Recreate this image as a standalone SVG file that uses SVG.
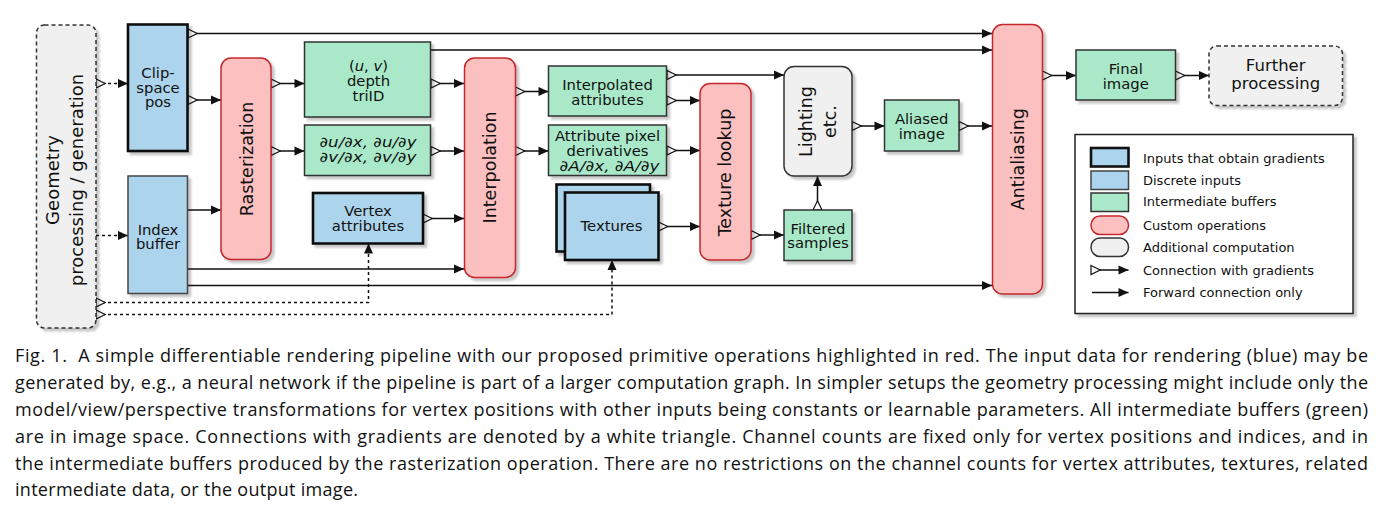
<svg xmlns="http://www.w3.org/2000/svg" width="1379" height="506" viewBox="0 0 1379 506">
<defs>
<filter id="sh" x="-10%" y="-10%" width="130%" height="130%">
<feDropShadow dx="3" dy="3" stdDeviation="1.2" flood-color="#000" flood-opacity="0.22"/>
</filter>
<marker id="grad" markerUnits="userSpaceOnUse" markerWidth="12" markerHeight="12" refX="0.8" refY="5" orient="auto" overflow="visible">
<path d="M0.8,0.5 L10,5 L0.8,9.5 z" fill="#fff" stroke="#111" stroke-width="1.2"/>
</marker>
<marker id="arr" markerUnits="userSpaceOnUse" markerWidth="12" markerHeight="12" refX="10" refY="5" orient="auto" overflow="visible">
<path d="M0,0.5 L10,5 L0,9.5 z" fill="#111"/>
</marker>
</defs>
<style>
.blue{fill:#acd4ec;stroke:#444;stroke-width:1.5}
.thick{stroke:#111;stroke-width:2.6}
.green{fill:#a9e9c9;stroke:#333;stroke-width:1.5}
.op{fill:#fdc0c0;stroke:#c4282c;stroke-width:1.5}
.gray{fill:#f0f0f0;stroke:#333;stroke-width:1.5}
.dash{fill:#f0f0f0;stroke:#333;stroke-width:1.5;stroke-dasharray:4 3}
.sh{filter:url(#sh)}
.t{font-family:"DejaVu Sans",Verdana,sans-serif;font-size:14.8px;fill:#111;text-anchor:middle}
.it{font-style:italic}
.d{font-size:14px}
.r{font-family:"DejaVu Sans",Verdana,sans-serif;font-size:17.5px;fill:#111;text-anchor:middle}
.lg{font-family:"DejaVu Sans",Verdana,sans-serif;font-size:13px;fill:#111}
.c{fill:none;stroke:#111;stroke-width:1.5}
.g{marker-start:url(#grad)}
.a{marker-end:url(#arr)}
.dot{stroke-dasharray:3 3}
.cap{font-family:"Open Sans",Lato,sans-serif;font-size:18px;fill:#111}
</style>

<g id="connectors">
<path class="c g a" d="M188,33.5 H992"/>
<path class="c g a dot" d="M96,83.5 H128"/>
<path class="c a dot" d="M96,235.5 H128"/>
<path class="c g a" d="M188,100 H221"/>
<path class="c a" d="M188,210 H221"/>
<path class="c a" d="M188,269 H464"/>
<path class="c a" d="M188,285.5 H992"/>
<path class="c g a dot" d="M96,302.5 H368.5 V243.5"/>
<path class="c g a dot" d="M96,314.5 H612 V260"/>
<path class="c g a" d="M271,83.5 H304.5"/>
<path class="c g a" d="M271,151 H304.5"/>
<path class="c a" d="M431,50 H992"/>
<path class="c g a" d="M431,83.5 H464"/>
<path class="c g a" d="M431,151 H464"/>
<path class="c g a" d="M423,218.5 H464"/>
<path class="c g a" d="M515.5,91.5 H548.5"/>
<path class="c g a" d="M515.5,151 H548.5"/>
<path class="c g a" d="M667,75 H784"/>
<path class="c g a" d="M667,100.5 H700"/>
<path class="c g a" d="M667,150.5 H700"/>
<path class="c g a" d="M658.5,226.5 H700"/>
<path class="c g a" d="M751,235 H784"/>
<path class="c g a" d="M817.5,210 V176"/>
<path class="c g a" d="M852,126 H884.5"/>
<path class="c g a" d="M959,126 H992"/>
<path class="c g a" d="M1042.5,75.5 H1076"/>
<path class="c g a" d="M1175.5,75.5 H1209"/>
</g>

<g id="geometry">
<rect class="dash sh" x="36.5" y="25" width="59.5" height="303" rx="8"/>
<g transform="translate(66,180) rotate(-90)">
<text class="r" style="font-size:18px" x="0" y="-7.5">Geometry</text>
<text class="r" style="font-size:18px" x="0" y="16.5">processing / generation</text>
</g>
</g>

<g id="clip-space-pos">
<rect class="blue thick sh" x="128" y="24.5" width="59.5" height="126.5"/>
<text class="t" x="158" y="78">Clip-</text>
<text class="t" x="158" y="92.5">space</text>
<text class="t" x="158" y="107">pos</text>
</g>

<g id="index-buffer">
<rect class="blue sh" x="128" y="176" width="59.5" height="117.5"/>
<text class="t" x="158" y="234.5">Index</text>
<text class="t" x="158" y="249">buffer</text>
</g>

<g id="rasterization">
<rect class="op sh" x="221" y="58" width="50" height="201.5" rx="10"/>
<text class="r" transform="translate(252.5,159) rotate(-90)">Rasterization</text>
</g>

<g id="uv-depth-triid">
<rect class="green sh" x="304.5" y="42" width="126" height="75"/>
<text class="t" x="368.5" y="70.5">(<tspan class="it">u</tspan>, <tspan class="it">v</tspan>)</text>
<text class="t" x="368.5" y="85.5">depth</text>
<text class="t" x="368.5" y="100.5">triID</text>
</g>

<g id="uv-derivatives">
<rect class="green sh" x="304.5" y="125" width="126" height="50.5"/>
<text class="t it d" x="368" y="147" textLength="97" lengthAdjust="spacingAndGlyphs">∂u/∂x, ∂u/∂y</text>
<text class="t it d" x="368" y="161.5" textLength="97" lengthAdjust="spacingAndGlyphs">∂v/∂x, ∂v/∂y</text>
</g>

<g id="vertex-attributes">
<rect class="blue thick sh" x="313" y="193" width="110" height="50.5"/>
<text class="t" x="368" y="216">Vertex</text>
<text class="t" x="368" y="231">attributes</text>
</g>

<g id="interpolation">
<rect class="op sh" x="464.5" y="58" width="51" height="219.5" rx="10"/>
<text class="r" transform="translate(496,167.5) rotate(-90)">Interpolation</text>
</g>

<g id="interpolated-attributes">
<rect class="green sh" x="548.5" y="66" width="118" height="50"/>
<text class="t" x="607.5" y="90">Interpolated</text>
<text class="t" x="607.5" y="105">attributes</text>
</g>

<g id="attribute-pixel-derivatives">
<rect class="green sh" x="548.5" y="125" width="118" height="50.5"/>
<text class="t" x="607.5" y="141">Attribute pixel</text>
<text class="t" x="607.5" y="155.5">derivatives</text>
<text class="t it" x="609.5" y="170.5" textLength="100" lengthAdjust="spacingAndGlyphs">∂A/∂x, ∂A/∂y</text>
</g>

<g id="textures">
<rect class="blue thick sh" x="556.5" y="184.5" width="93.5" height="67"/>
<rect class="blue thick sh" x="565" y="192.5" width="93.5" height="67.5"/>
<text class="t" x="611.5" y="231">Textures</text>
</g>

<g id="texture-lookup">
<rect class="op sh" x="700" y="83.5" width="51" height="176.5" rx="10"/>
<text class="r" transform="translate(731,172.5) rotate(-90)">Texture lookup</text>
</g>

<g id="lighting">
<rect class="gray sh" x="784" y="66.5" width="68" height="109.5" rx="10"/>
<g transform="translate(818,121.5) rotate(-90)">
<text class="r" x="0" y="-6">Lighting</text>
<text class="r" x="0" y="18">etc.</text>
</g>
</g>

<g id="filtered-samples">
<rect class="green sh" x="784" y="210" width="68" height="50.5"/>
<text class="t" x="818" y="233.5">Filtered</text>
<text class="t" x="818" y="248">samples</text>
</g>

<g id="aliased-image">
<rect class="green sh" x="884.5" y="100" width="74.5" height="51"/>
<text class="t" x="921.7" y="124">Aliased</text>
<text class="t" x="921.7" y="138.5">image</text>
</g>

<g id="antialiasing">
<rect class="op sh" x="992.5" y="24.5" width="50" height="269.5" rx="10"/>
<text class="r" transform="translate(1024,159.2) rotate(-90)">Antialiasing</text>
</g>

<g id="final-image">
<rect class="green sh" x="1076" y="50" width="99.5" height="50"/>
<text class="t" x="1125.7" y="74">Final</text>
<text class="t" x="1125.7" y="88.5">image</text>
</g>

<g id="further-processing">
<rect class="dash sh" x="1209" y="46" width="133.5" height="59.5" rx="8"/>
<text class="t" style="font-size:16.5px" x="1275.7" y="71">Further</text>
<text class="t" style="font-size:16.5px" x="1275.7" y="89">processing</text>
</g>

<g id="legend">
<rect class="sh" x="1075" y="134.5" width="278" height="179" fill="#fff" stroke="#222" stroke-width="1.5"/>
<rect class="blue thick" x="1091" y="148" width="37.5" height="18.5"/>
<rect class="blue" x="1091" y="171" width="37.5" height="18.5"/>
<rect class="green" x="1091" y="193" width="37.5" height="18.5"/>
<rect class="op" x="1091" y="216" width="37.5" height="18.5" rx="9"/>
<rect class="gray" x="1091" y="238" width="37.5" height="18.5" rx="9"/>
<path class="c g a" d="M1091,270 H1128.5"/>
<path class="c a" d="M1092,292.5 H1128.5"/>
<text class="lg" x="1143" y="162.5">Inputs that obtain gradients</text>
<text class="lg" x="1143" y="184.5">Discrete inputs</text>
<text class="lg" x="1143" y="206">Intermediate buffers</text>
<text class="lg" x="1143" y="229.5">Custom operations</text>
<text class="lg" x="1143" y="251.5">Additional computation</text>
<text class="lg" x="1143" y="274.5">Connection with gradients</text>
<text class="lg" x="1143" y="297">Forward connection only</text>
</g>

<g id="caption">
<text class="cap" x="15" y="362" textLength="1353" lengthAdjust="spacing">Fig. 1.&#160; A simple differentiable rendering pipeline with our proposed primitive operations highlighted in red. The input data for rendering (blue) may be</text>
<text class="cap" x="15" y="389" textLength="1353" lengthAdjust="spacing">generated by, e.g., a neural network if the pipeline is part of a larger computation graph. In simpler setups the geometry processing might include only the</text>
<text class="cap" x="15" y="416" textLength="1353" lengthAdjust="spacing">model/view/perspective transformations for vertex positions with other inputs being constants or learnable parameters. All intermediate buffers (green)</text>
<text class="cap" x="15" y="443" textLength="1353" lengthAdjust="spacing">are in image space. Connections with gradients are denoted by a white triangle. Channel counts are fixed only for vertex positions and indices, and in</text>
<text class="cap" x="15" y="469.5" textLength="1353" lengthAdjust="spacing">the intermediate buffers produced by the rasterization operation. There are no restrictions on the channel counts for vertex attributes, textures, related</text>
<text class="cap" x="15" y="496" textLength="343" lengthAdjust="spacing">intermediate data, or the output image.</text>
</g>
</svg>
